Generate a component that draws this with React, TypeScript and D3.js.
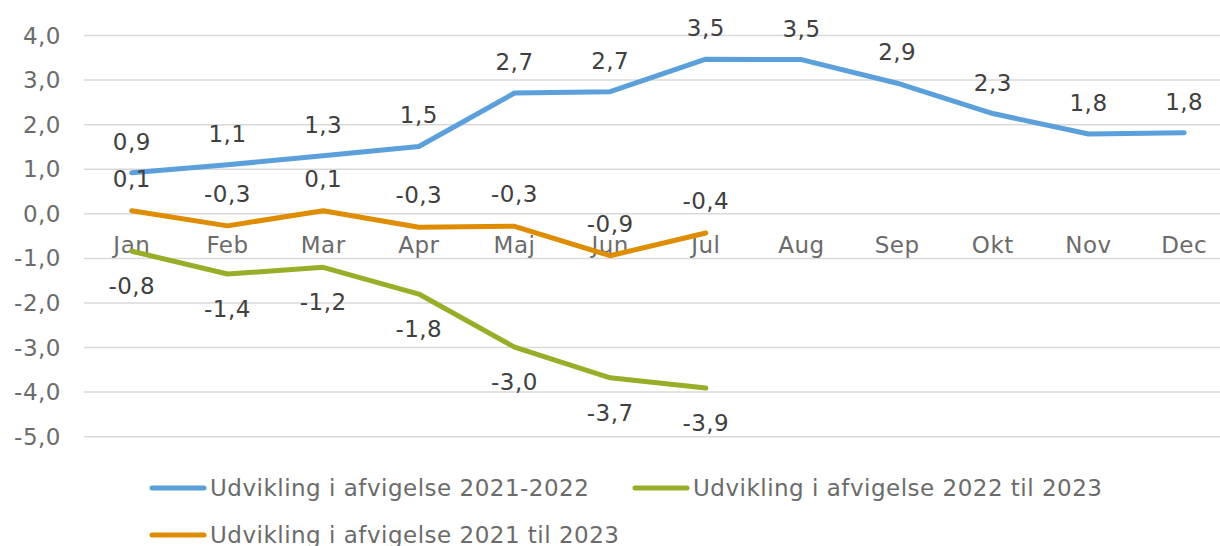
import React from "react";
import * as d3 from "d3";

const months = ["Jan", "Feb", "Mar", "Apr", "Maj", "Jun", "Jul", "Aug", "Sep", "Okt", "Nov", "Dec"];
const blueValues = [0.92, 1.1, 1.3, 1.51, 2.71, 2.74, 3.47, 3.46, 2.93, 2.25, 1.79, 1.82];
const blueLabels = ["0,9", "1,1", "1,3", "1,5", "2,7", "2,7", "3,5", "3,5", "2,9", "2,3", "1,8", "1,8"];
const orangeValues = [0.07, -0.27, 0.07, -0.3, -0.28, -0.94, -0.43];
const orangeLabels = ["0,1", "-0,3", "0,1", "-0,3", "-0,3", "-0,9", "-0,4"];
const greenValues = [-0.84, -1.35, -1.2, -1.8, -2.99, -3.68, -3.91];
const greenLabels = ["-0,8", "-1,4", "-1,2", "-1,8", "-3,0", "-3,7", "-3,9"];
const yTicks = [4, 3, 2, 1, 0, -1, -2, -3, -4, -5];
const seriesNames = ["Udvikling i afvigelse 2021-2022", "Udvikling i afvigelse 2022 til 2023", "Udvikling i afvigelse 2021 til 2023"];

const W = 1220;
const H = 546;
const FONT = "DejaVu Sans, Verdana, sans-serif";
const BLUE = "#5B9FDB";
const GREEN = "#96AE28";
const ORANGE = "#DE8C00";
const FS = 23;
const LS = 0.5;

export default function App() {
  const x = d3.scaleBand<string>().domain(months).range([84, 1232]);
  const cx = (m: string) => (x(m) as number) + x.bandwidth() / 2;
  const y = d3.scaleLinear().domain([-5, 4]).range([436.7, 35.5]);
  const line = d3
    .line<number>()
    .x((_, i) => cx(months[i]))
    .y((d) => y(d));

  const fmt = (v: number) => d3.format(".1f")(v).replace(".", ",").replace("−", "-");

  const series = [
    { values: blueValues, labels: blueLabels, color: BLUE, dy: -23 },
    { values: orangeValues, labels: orangeLabels, color: ORANGE, dy: -24 },
    { values: greenValues, labels: greenLabels, color: GREEN, dy: 43 },
  ];

  const legend = [
    { name: seriesNames[0], color: BLUE, x: 150, y: 496 },
    { name: seriesNames[1], color: GREEN, x: 633, y: 496 },
    { name: seriesNames[2], color: ORANGE, x: 150, y: 543 },
  ];

  return (
    <svg width={W} height={H} style={{ position: "absolute", left: 0, top: 0, background: "#fff" }} fontFamily={FONT}>
      <rect width={W} height={H} fill="#fff" />
      {yTicks.map((t) => (
        <g key={t}>
          <line x1={84} x2={1232} y1={y(t)} y2={y(t)} stroke="#D9D9D9" strokeWidth={1.5} />
          <text x={61} y={y(t) + 8} textAnchor="end" fontSize={FS} letterSpacing={LS} fill="#6B6B6B">
            {fmt(t)}
          </text>
        </g>
      ))}
      {months.map((m) => (
        <text key={m} x={cx(m)} y={253} textAnchor="middle" fontSize={FS} letterSpacing={LS} fill="#6B6B6B">
          {m}
        </text>
      ))}
      {series.map((s, si) => (
        <path
          key={si}
          d={line(s.values) as string}
          fill="none"
          stroke={s.color}
          strokeWidth={5}
          strokeLinejoin="round"
          strokeLinecap="round"
        />
      ))}
      {series.map((s, si) =>
        s.values.map((v, i) => (
          <text key={`${si}-${i}`} x={cx(months[i])} y={y(v) + s.dy} textAnchor="middle" fontSize={FS} letterSpacing={LS} fill="#404040">
            {s.labels[i]}
          </text>
        ))
      )}
      {legend.map((l) => (
        <g key={l.name}>
          <line x1={l.x + 2} x2={l.x + 54} y1={l.y - 8} y2={l.y - 8} stroke={l.color} strokeWidth={5} strokeLinecap="round" />
          <text x={l.x + 60} y={l.y} fontSize={FS} letterSpacing={LS} fill="#6B6B6B">
            {l.name}
          </text>
        </g>
      ))}
    </svg>
  );
}
